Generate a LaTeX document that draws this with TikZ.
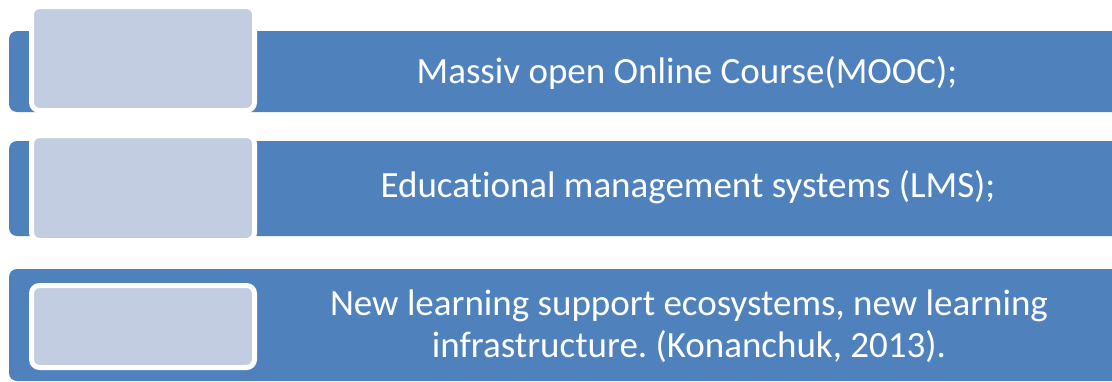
\documentclass[tikz,border=0pt]{standalone}
\usepackage{fontspec}
\setmainfont{Carlito}[Ligatures=NoCommon]
\frenchspacing

\definecolor{barblue}{RGB}{79,129,189}
\definecolor{paleblue}{RGB}{195,205,226}

\begin{document}
\begin{tikzpicture}[x=1pt,y=-1pt,
	bar/.style={fill=barblue, rounded corners=8pt},
	tile/.style={fill=paleblue, draw=white, line width=5pt, rounded corners=8pt},
	label/.style={text=white, font=\fontsize{37}{42}\selectfont, align=center}]
			% Canvas
			\useasboundingbox (0,0) rectangle (1112,381);
			\clip (0,0) rectangle (1112,381);

			% Blue bars
			\fill[bar] (9,31) rectangle (1130,112);
			\fill[bar] (9,141) rectangle (1130,236);
			\fill[bar] (9,269) rectangle (1130,381);

			% Pale tiles
			\draw[tile] (31.5,6.5) rectangle (254.5,110.5);
			\draw[tile] (31.5,135.5) rectangle (254.5,240.5);
			\draw[tile] (31.5,285.5) rectangle (254.5,367.5);

			% Texts
			\node[label, anchor=base] (mooc) at (687,83) {Massiv open Online Course(MOOC);};
			\node[label, anchor=base] (lms) at (688,197) {Educational management systems (LMS);};
			\node[label] (eco) at (689,326.5) {New learning support ecosystems, new learning\\infrastructure. (Konanchuk, 2013).};

		\end{tikzpicture}
\end{document}
